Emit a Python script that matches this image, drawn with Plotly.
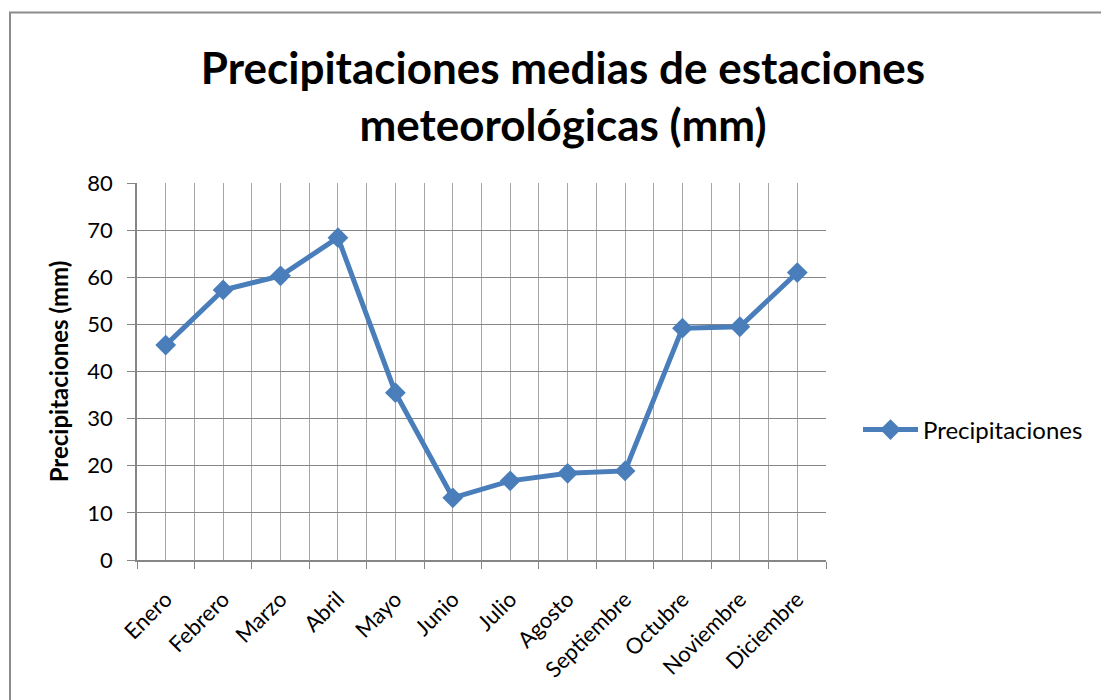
import plotly.graph_objects as go

meses = ["Enero", "Febrero", "Marzo", "Abril", "Mayo", "Junio", "Julio",
         "Agosto", "Septiembre", "Octubre", "Noviembre", "Diciembre"]
precipitaciones = [45.6, 57.3, 60.3, 68.4, 35.5, 13.2, 16.8, 18.4, 18.9, 49.2, 49.5, 61.0]
y_ticks = [0, 10, 20, 30, 40, 50, 60, 70, 80]

FONT = "Lato"
BLUE = "#4A7EBB"
GRID = "#a6a6a6"
AXIS = "#868686"

x_pos = list(range(len(meses)))

# page has an 8px body margin: figure coords = reference coords - 8
OFF = 8
W, H = 1109 - OFF, 700 - OFF
L = 137 - OFF
T = 183 - OFF
PR = 826 - OFF   # plot right edge
PB = 560 - OFF   # plot bottom edge
R = W - PR
B = H - PB
pw = PR - L
ph = PB - T

fig = go.Figure()
fig.add_trace(go.Scatter(
    x=x_pos, y=precipitaciones, mode="lines+markers", name="Precipitaciones",
    line=dict(color=BLUE, width=5),
    marker=dict(symbol="diamond", size=16, color=BLUE),
))

fig.update_layout(
    width=W, height=H,
    margin=dict(l=L, r=R, t=T, b=B),
    paper_bgcolor="white", plot_bgcolor="white",
    font=dict(family=FONT, size=22, color="black"),
    title=dict(
        text="Precipitaciones medias de estaciones<br>meteorológicas (mm)",
        x=(563 - OFF) / W, xanchor="center", y=1 - 76 / H, yanchor="middle",
        font=dict(family=FONT, size=44, color="black", weight="bold"),
    ),
    showlegend=True,
    legend=dict(
        x=(858 - OFF - L) / pw, xanchor="left", y=(560 - 430) / ph, yanchor="middle",
        itemwidth=55, font=dict(family=FONT, size=24, color="black"),
        bgcolor="rgba(0,0,0,0)",
    ),
    xaxis=dict(
        range=[-0.5, len(meses) - 0.5],
        tickmode="array", tickvals=x_pos, ticktext=meses, tickangle=-45,
        ticks="", ticklabelstandoff=16,
        showgrid=True, gridcolor=GRID, gridwidth=1,
        showline=True, linecolor=AXIS, linewidth=1.5, zeroline=False,
        minor=dict(tick0=-0.5, dtick=1, ticks="outside", ticklen=7,
                   tickcolor=AXIS, showgrid=True, gridcolor=GRID, gridwidth=1),
        fixedrange=True,
    ),
    yaxis=dict(
        range=[0, 80], tickmode="array", tickvals=y_ticks,
        ticks="outside", ticklen=8, tickcolor=AXIS, ticklabelstandoff=10,
        showgrid=True, gridcolor=AXIS, gridwidth=1,
        showline=True, linecolor=AXIS, linewidth=1.5, zeroline=False,
        title=dict(text="<b>Precipitaciones (mm)</b>", font=dict(family=FONT, size=24), standoff=12),
        fixedrange=True,
    ),
)

# outer chart border
bx0 = 10 - OFF
by0 = 12.5 - OFF
fig.add_shape(
    type="rect", xref="paper", yref="paper",
    x0=(bx0 - L) / pw, x1=(W + 20 - L) / pw,
    y0=(PB - (H + 20)) / ph, y1=(PB - by0) / ph,
    line=dict(color="#8c8c8c", width=2), fillcolor="rgba(0,0,0,0)", layer="below",
)

fig.write_html("out.html")
